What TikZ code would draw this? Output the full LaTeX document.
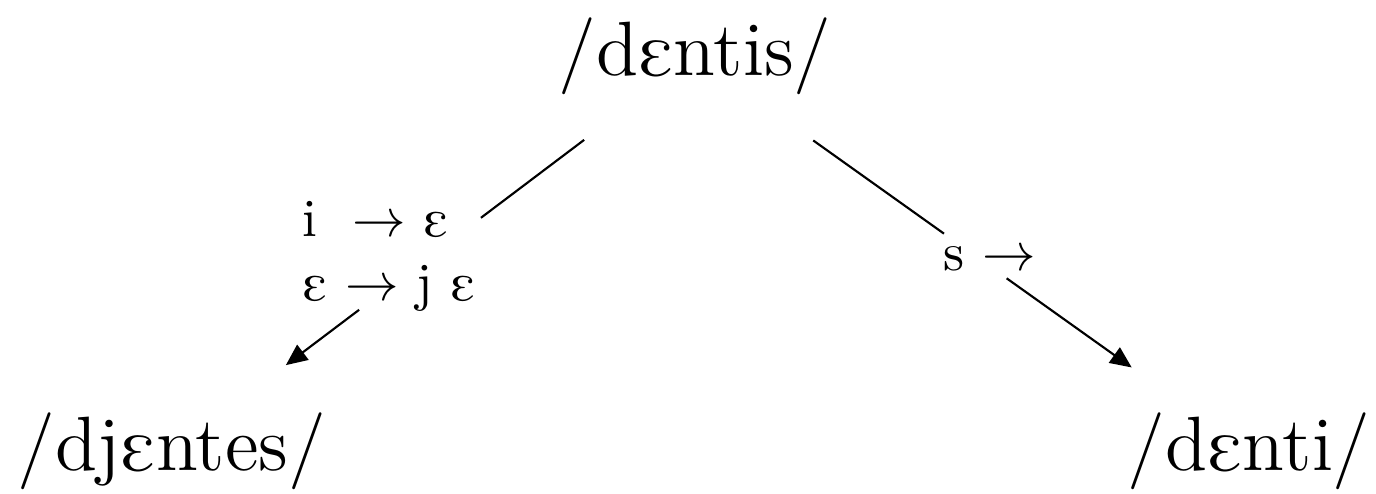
\documentclass[tikz,border=0pt]{standalone}
\usepackage{tipa}
\usetikzlibrary{arrows.meta}
\begin{document}
\begin{tikzpicture}[word/.style={font=\Large, inner sep=0pt},
	derive/.style={-{Triangle[length=4pt, width=3.5pt]}}]
	\useasboundingbox (0,0) rectangle (9.04,3.24);
	\node[word] (top) at (4.566,2.871) {/d\textepsilon ntis/};
	\node[word] (left) at (1.130,0.276) {/dj\textepsilon ntes/};
	\node[word] (right) at (8.206,0.276) {/d\textepsilon nti/};
	\node[align=left] (lrule) at (2.556,1.557) {i \ $\rightarrow$ \textepsilon\\ \textepsilon{} $\rightarrow$ j \textepsilon};
	\node[anchor=base] (rrule) at (6.505,1.465) {s $\rightarrow$};
	\draw[shorten <=13.7pt, shorten >=60.1pt] (top) -- (left);
	\draw[derive, shorten <=66.4pt, shorten >=14.4pt] (top) -- (left);
	\draw[shorten <=14.4pt, shorten >=57.3pt] (top) -- (right);
	\draw[derive, shorten <=58.8pt, shorten >=14.2pt] (top) -- (right);
\end{tikzpicture}
\end{document}
